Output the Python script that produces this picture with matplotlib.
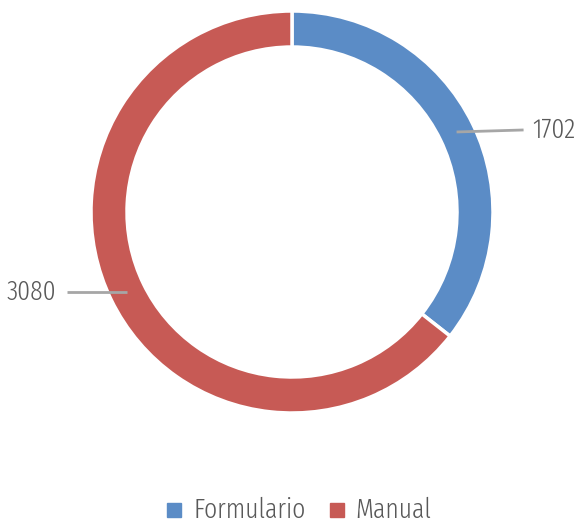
import numpy as np
import matplotlib
matplotlib.use("Agg")
import matplotlib.pyplot as plt
from matplotlib.patches import Rectangle

categories = ["Formulario", "Manual"]
values = [1702, 3080]
colors = ["#5B8CC6", "#C75A55"]

plt.rcParams['font.family'] = ['Fira Sans Extra Condensed', 'Roboto Condensed', 'DejaVu Sans']
plt.rcParams['font.weight'] = 300

W, H = 582, 527
fig = plt.figure(figsize=(W / 100, H / 100), dpi=100)
ax = fig.add_axes([0, 0, 1, 1])

cx, cy = 292, H - 212
R = 201
ring = 36
wedges, _ = ax.pie(values, colors=colors, startangle=90, counterclock=False,
                   radius=R, center=(cx, cy),
                   wedgeprops=dict(width=ring, edgecolor="white", linewidth=2.5))
ax.set_xlim(0, W)
ax.set_ylim(0, H)
ax.set_aspect('equal')
ax.axis('off')

txtcol = "#595959"
fs = 20
for w, v in zip(wedges, values):
    ang = np.deg2rad((w.theta1 + w.theta2) / 2)
    r = R - ring / 2
    x0 = cx + r * np.cos(ang)
    y0 = cy + r * np.sin(ang)
    if np.cos(ang) >= 0:
        x1 = x0 + 67
        ax.plot([x0, x1], [y0, y0 + 2], color="#A6A6A6", lw=2, solid_capstyle='butt')
        ax.text(x1 + 9, y0 + 2, str(v), ha='left', va='center', fontsize=fs, color=txtcol)
    else:
        x1 = x0 - 60
        ax.plot([x0, x1], [y0, y0], color="#A6A6A6", lw=2, solid_capstyle='butt')
        ax.text(x1 - 11, y0, str(v), ha='right', va='center', fontsize=fs, color=txtcol)

# legend
leg_y = H - 510
sq = 14
leg_items = [(167, 193), (330, 355)]
for (sx, tx), lab, c in zip(leg_items, categories, colors):
    ax.add_patch(Rectangle((sx, leg_y - sq / 2), sq, sq, color=c))
    ax.text(tx, leg_y, lab, ha='left', va='center', fontsize=fs, color=txtcol)

fig.savefig("out.png", dpi=100)
